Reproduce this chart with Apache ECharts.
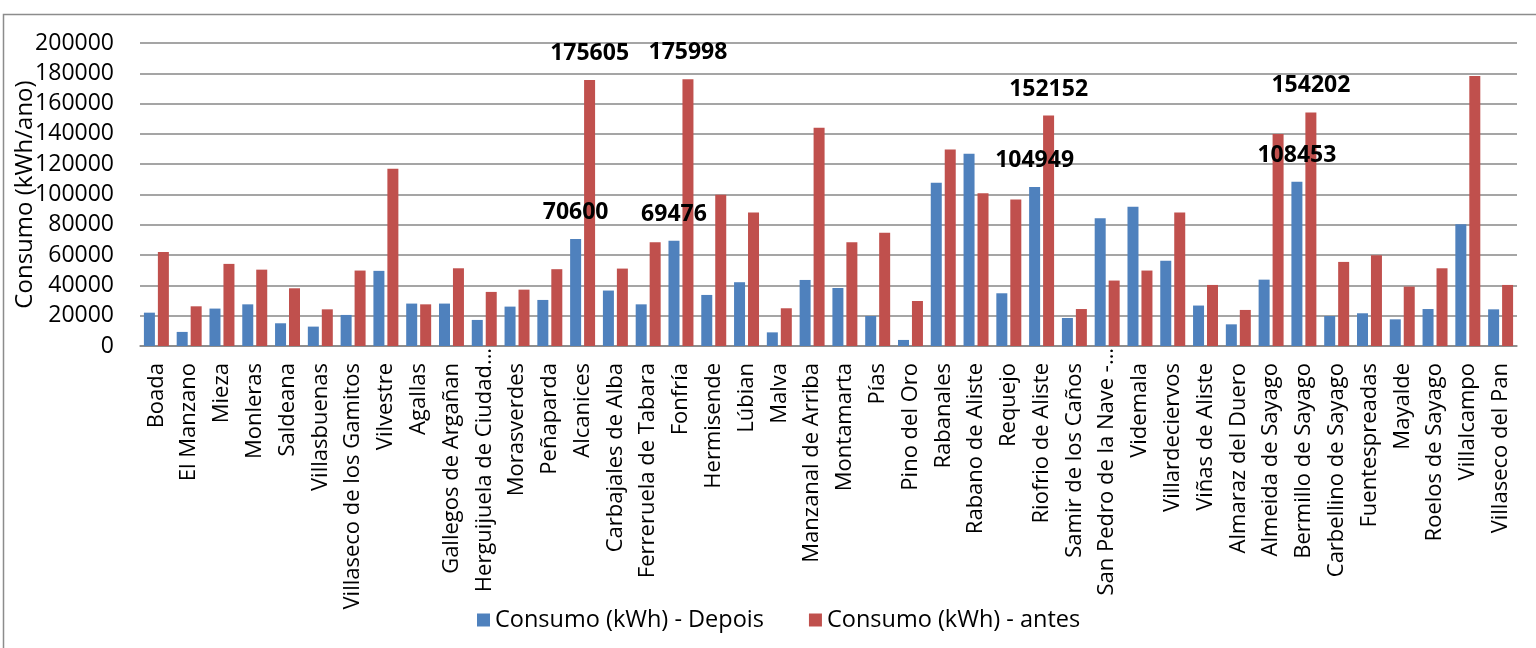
<!DOCTYPE html>
<html>
<head>
<meta charset="utf-8">
<title>Consumo (kWh/ano)</title>
<script src="https://cdn.jsdelivr.net/npm/echarts@6/dist/echarts.min.js"></script>
<style>
  html, body { margin: 0; padding: 0; background: #ffffff; }
  #chart { position: absolute; left: 0; top: 0; width: 1536px; height: 648px; }
</style>
</head>
<body>
<div id="chart"></div>
<script>
// Municipalities (category axis)
const categories = [
  'Boada', 'El Manzano', 'Mieza', 'Monleras', 'Saldeana', 'Villasbuenas',
  'Villaseco de los Gamitos', 'Vilvestre', 'Agallas', 'Gallegos de Argañan',
  'Herguijuela de Ciudad…', 'Morasverdes', 'Peñaparda', 'Alcanices',
  'Carbajales de Alba', 'Ferreruela de Tabara', 'Fonfría', 'Hermisende',
  'Lúbian', 'Malva', 'Manzanal de Arriba', 'Montamarta', 'Pías', 'Pino del Oro',
  'Rabanales', 'Rabano de Aliste', 'Requejo', 'Riofrio de Aliste',
  'Samir de los Caños', 'San Pedro de la Nave -…', 'Videmala', 'Villardeciervos',
  'Viñas de Aliste', 'Almaraz del Duero', 'Almeida de Sayago', 'Bermillo de Sayago',
  'Carbellino de Sayago', 'Fuentespreadas', 'Mayalde', 'Roelos de Sayago',
  'Villalcampo', 'Villaseco del Pan'
];

// Annual consumption after the intervention (kWh)
const consumoDepois = [
  22000, 9300, 24700, 27500, 15000, 12800, 20500, 49600, 28000, 28000,
  17200, 26000, 30400, 70600, 36600, 27500, 69476, 33700, 42100, 9000,
  43600, 38300, 19800, 4000, 107700, 126900, 34800, 104949, 18500, 84400,
  91900, 56200, 26700, 14300, 43800, 108453, 19800, 21600, 17600, 24400,
  80400, 24200
];

// Annual consumption before the intervention (kWh)
const consumoAntes = [
  62100, 26200, 54200, 50400, 38100, 24200, 49800, 117000, 27500, 51300,
  35700, 37200, 50700, 175605, 51100, 68500, 175998, 99800, 88100, 24900,
  144100, 68500, 74700, 29700, 129700, 100900, 96700, 152152, 24400, 43200,
  49800, 88100, 40300, 23800, 139900, 154202, 55500, 59900, 39200, 51300,
  178200, 40300
];

// Municipalities whose bars carry a value label
const labelledCategories = ['Alcanices', 'Fonfría', 'Riofrio de Aliste', 'Bermillo de Sayago'];

// Y axis ticks
const yTicks = { min: 0, max: 200000, interval: 20000 };

const seriesNames = ['Consumo (kWh) - Depois', 'Consumo (kWh) - antes'];
const FONT = 'Open Sans';
const CAT_FONT_SIZE = 22;

function withLabels(values) {
  return values.map((v, i) => {
    if (labelledCategories.indexOf(categories[i]) >= 0) {
      return { value: v, label: { show: true } };
    }
    return v;
  });
}

const chart = echarts.init(document.getElementById('chart'), null, { renderer: 'canvas' });

const valueLabel = {
  show: false,
  position: 'top',
  distance: 15,
  color: '#000000',
  fontFamily: FONT,
  fontWeight: 'bold',
  fontSize: 23
};

chart.setOption({
  animation: false,
  backgroundColor: '#ffffff',
  textStyle: { fontFamily: FONT },
  graphic: [{
    type: 'rect',
    silent: true,
    z: -10,
    shape: { x: 3.5, y: 14.5, width: 1600, height: 700 },
    style: { fill: 'none', stroke: '#8c8c8c', lineWidth: 1.5 }
  }],
  grid: {
    left: 140,
    right: 19,
    top: 43,
    bottom: 302,
    containLabel: false,
    outerBoundsMode: 'none'
  },
  legend: {
    data: seriesNames,
    left: 472,
    top: 603,
    icon: 'rect',
    itemWidth: 13,
    itemHeight: 13,
    itemGap: 45,
    textStyle: { fontFamily: FONT, fontSize: 23.5, color: '#000000' }
  },
  xAxis: {
    type: 'category',
    data: categories,
    axisLine: { show: true, lineStyle: { color: '#878787', width: 1.5 } },
    axisTick: { show: false },
    axisLabel: {
      interval: 0,
      rotate: 90,
      margin: 2,
      color: '#000000',
      fontFamily: FONT,
      fontSize: CAT_FONT_SIZE,
      formatter: function (name) {
        return name.endsWith('…') ? '{t|' + name + '}' : '{n|' + name + '}';
      },
      rich: {
        n: { fontFamily: FONT, fontSize: CAT_FONT_SIZE, color: '#000000', padding: [0, 15, 0, 0] },
        t: { fontFamily: FONT, fontSize: CAT_FONT_SIZE, color: '#000000', padding: [0, 0, 0, 0] }
      }
    }
  },
  yAxis: {
    type: 'value',
    min: yTicks.min,
    max: yTicks.max,
    interval: yTicks.interval,
    name: 'Consumo (kWh/ano)',
    nameLocation: 'middle',
    nameGap: 103,
    nameMoveOverlap: false,
    nameTextStyle: { fontFamily: FONT, fontSize: 24, color: '#000000' },
    axisLine: { show: false },
    axisTick: { show: false },
    axisLabel: {
      margin: 26,
      color: '#000000',
      fontFamily: FONT,
      fontSize: 23,
      formatter: function (v) { return String(v); }
    },
    splitLine: { show: true, lineStyle: { color: '#878787', width: 1.5 } }
  },
  series: [
    {
      name: seriesNames[0],
      type: 'bar',
      data: withLabels(consumoDepois),
      barWidth: 11,
      barGap: '27%',
      itemStyle: { color: '#4F81BD' },
      label: valueLabel,
      z: 2
    },
    {
      name: seriesNames[1],
      type: 'bar',
      data: withLabels(consumoAntes),
      barWidth: 11,
      barGap: '27%',
      itemStyle: { color: '#C0504D' },
      label: valueLabel,
      z: 2
    }
  ]
});
</script>
</body>
</html>
